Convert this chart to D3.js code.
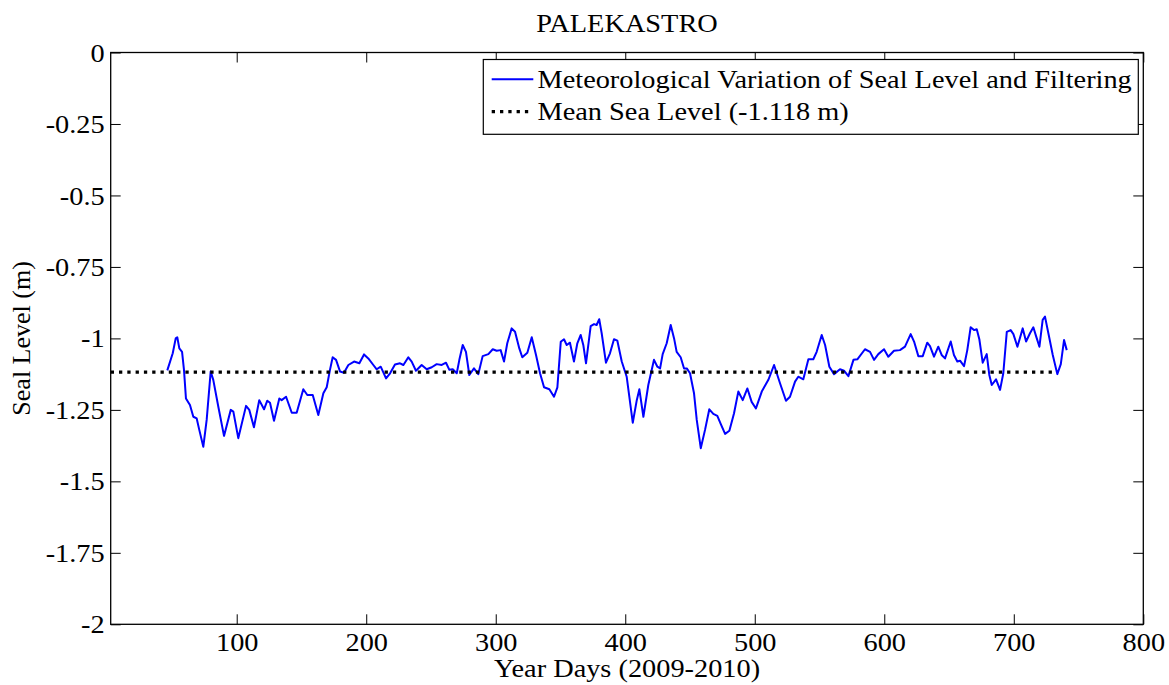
<!DOCTYPE html>
<html>
<head>
<meta charset="utf-8">
<script src="https://cdn.jsdelivr.net/npm/d3@7"></script>
<style>
  html, body { margin: 0; padding: 0; background: #fff; }
  svg { display: block; }
  svg text { font-family: "Liberation Serif", "Times New Roman", serif !important; fill: #000; }
</style>
</head>
<body>
<svg id="chart" width="1169" height="685"></svg>
<script>
// ---- data ----
const title = "PALEKASTRO";
const xLabel = "Year Days (2009-2010)";
const yLabel = "Seal Level (m)";
const seriesName = "Meteorological Variation of Seal Level and Filtering";
const meanName = "Mean Sea Level (-1.118 m)";
const meanLevel = -1.118;
const meanEndDay = 732;
const xTicks = [100, 200, 300, 400, 500, 600, 700, 800];
const yTicks = [0, -0.25, -0.5, -0.75, -1, -1.25, -1.5, -1.75, -2];
const yTickLabels = ["0", "-0.25", "-0.5", "-0.75", "-1", "-1.25", "-1.5", "-1.75", "-2"];
const days = [
  46.4, 50.6, 52.9, 54.1, 55.7, 57.8, 59.3, 60.8, 63.9, 66.5, 69.1, 71.1, 74.2, 76.8, 79.9, 81.9,
  85.8, 90.2, 95.4, 97.4, 101.2, 107.2, 109.7, 113.3, 117.4, 121.1, 123.6, 125.7, 128.8, 132.9,
  134.7, 138.1, 142.5, 146.3, 151.4, 154.5, 158.7, 163.0, 166.9, 169.5, 172.0, 174.1, 176.7,
  179.8, 182.8, 186.2, 190.6, 194.7, 198.3, 201.6, 205.5, 208.1, 211.2, 215.3, 218.4, 222.2,
  226.1, 228.7, 232.5, 235.1, 238.4, 242.8, 246.7, 250.6, 254.4, 258.3, 261.6, 264.2, 266.8,
  269.9, 271.9, 274.5, 277.0, 279.6, 283.2, 286.5, 289.9, 294.3, 297.7, 300.7, 303.8, 306.4,
  308.9, 312.3, 314.9, 318.2, 320.5, 324.4, 327.8, 331.1, 334.2, 337.3, 341.4, 345.0, 347.6,
  350.2, 352.7, 354.8, 357.3, 360.4, 363.0, 365.6, 367.6, 369.7, 373.3, 375.9, 377.9, 379.9,
  381.8, 385.1, 388.2, 391.3, 393.9, 397.3, 401.1, 405.8, 408.9, 410.9, 414.0, 417.8, 422.2,
  424.8, 426.9, 428.9, 432.0, 435.1, 437.7, 439.7, 442.8, 445.4, 447.5, 450.0, 453.1, 455.2,
  458.3, 461.6, 464.9, 468.0, 471.1, 473.7, 477.1, 480.4, 484.0, 487.3, 490.7, 494.3, 497.6,
  500.9, 505.4, 510.5, 514.9, 519.5, 524.1, 527.2, 531.1, 533.6, 537.5, 541.4, 545.2, 547.8,
  551.7, 554.3, 557.6, 561.2, 565.8, 568.9, 572.3, 576.2, 579.2, 585.1, 589.0, 592.1, 595.4,
  599.8, 603.1, 607.5, 612.1, 616.0, 620.4, 623.0, 626.3, 629.7, 633.2, 635.3, 638.4, 641.7,
  644.3, 646.9, 651.3, 653.8, 656.4, 658.5, 661.6, 664.1, 666.7, 669.3, 671.4, 673.4, 676.0,
  679.1, 681.1, 683.0, 686.3, 689.4, 691.9, 694.6, 697.6, 699.7, 702.8, 706.9, 709.5, 712.5,
  715.1, 717.2, 719.8, 722.3, 724.1, 726.7, 730.1, 733.6, 736.3, 738.8, 740.9
];
const levels = [
  -1.112, -1.052, -1.000, -0.996, -1.035, -1.047, -1.111, -1.210, -1.233, -1.274, -1.280, -1.320, -1.379, -1.285, -1.116, -1.145,
  -1.239, -1.341, -1.250, -1.256, -1.349, -1.236, -1.250, -1.311, -1.216, -1.248, -1.218, -1.225, -1.288, -1.210,
  -1.216, -1.204, -1.260, -1.260, -1.178, -1.198, -1.198, -1.268, -1.192, -1.171, -1.110, -1.066, -1.075,
  -1.116, -1.120, -1.093, -1.081, -1.087, -1.056, -1.070, -1.093, -1.108, -1.099, -1.140, -1.122, -1.091,
  -1.087, -1.093, -1.066, -1.081, -1.113, -1.093, -1.108, -1.101, -1.090, -1.093, -1.085, -1.110, -1.108,
  -1.122, -1.075, -1.023, -1.047, -1.128, -1.105, -1.125, -1.062, -1.055, -1.038, -1.043, -1.041, -1.081,
  -1.017, -0.965, -0.977, -1.035, -1.066, -1.050, -0.996, -1.058, -1.122, -1.171, -1.178, -1.204, -1.171,
  -1.012, -1.003, -1.023, -1.015, -1.081, -1.017, -0.988, -1.023, -1.087, -0.957, -0.950, -0.953, -0.933,
  -0.982, -1.085, -1.052, -1.003, -1.008, -1.081, -1.134, -1.295, -1.216, -1.178, -1.274, -1.163, -1.075,
  -1.099, -1.105, -1.055, -1.017, -0.953, -1.000, -1.047, -1.066, -1.105, -1.105, -1.122, -1.192, -1.285,
  -1.384, -1.320, -1.248, -1.264, -1.271, -1.299, -1.334, -1.323, -1.262, -1.186, -1.216, -1.175, -1.222,
  -1.245, -1.186, -1.145, -1.093, -1.157, -1.218, -1.204, -1.151, -1.134, -1.143, -1.073, -1.073, -1.047,
  -0.988, -1.023, -1.099, -1.125, -1.108, -1.113, -1.132, -1.075, -1.073, -1.038, -1.047, -1.075, -1.055,
  -1.038, -1.064, -1.043, -1.041, -1.029, -0.985, -1.011, -1.062, -1.062, -1.015, -1.027, -1.064, -1.029,
  -1.058, -1.070, -1.011, -1.058, -1.081, -1.078, -1.097, -1.041, -0.961, -0.971, -0.968, -1.003, -1.085,
  -1.055, -1.128, -1.163, -1.143, -1.180, -1.122, -0.977, -0.971, -0.985, -1.029, -0.965, -1.011, -0.982,
  -0.961, -0.992, -1.029, -0.935, -0.924, -0.982, -1.058, -1.125, -1.090, -1.006, -1.041
];

// ---- layout ----
const svg = d3.select("#chart");
const L = 110.7, R = 1143.3, T = 52.5, B = 624.3;
const FS = 26;
const SX = 1.09; // horizontal stretch of the reference's text
const FONT = "Liberation Serif";
const x = d3.scaleLinear().domain([2.7, 800]).range([L, R]);
const y = d3.scaleLinear().domain([-2, 0]).range([B, T]);

svg.append("rect").attr("width", 1169).attr("height", 685).attr("fill", "#fff");

svg.append("clipPath").attr("id", "plotclip")
  .append("rect").attr("x", L).attr("y", T).attr("width", R - L).attr("height", B - T);

// stretch a text horizontally about its anchor x
function stretch(sel) {
  sel.each(function () {
    const t = d3.select(this);
    const x0 = +t.attr("x") || 0;
    const prev = t.attr("transform") || "";
    t.attr("transform", `${prev} translate(${x0},0) scale(${SX},1) translate(${-x0},0)`);
  });
}

// axes with inward ticks (MATLAB style, box on)
const tickLen = 10;
const xAxisB = d3.axisBottom(x).tickValues(xTicks).tickSize(-tickLen).tickPadding(8).tickFormat(d3.format("d"));
const xAxisT = d3.axisTop(x).tickValues(xTicks).tickSize(-tickLen).tickFormat("");
const yAxisL = d3.axisLeft(y).tickValues(yTicks).tickSize(-tickLen).tickPadding(6)
  .tickFormat((d, i) => yTickLabels[i]);
const yAxisR = d3.axisRight(y).tickValues(yTicks).tickSize(-tickLen).tickFormat("");

function styleAxis(g) {
  g.attr("font-family", FONT).attr("font-size", FS);
  g.select(".domain").remove();
  g.selectAll(".tick line").attr("stroke", "#000").attr("stroke-width", 1);
  g.selectAll(".tick text").style("font-family", FONT).attr("font-size", FS).attr("fill", "#000");
}

svg.append("g").attr("transform", `translate(0,${B})`).call(xAxisB).call(styleAxis)
  .selectAll(".tick text").attr("dy", "0.71em").call(stretch);
svg.append("g").attr("transform", `translate(0,${T})`).call(xAxisT).call(styleAxis);
svg.append("g").attr("transform", `translate(${L},0)`).call(yAxisL).call(styleAxis)
  .selectAll(".tick text").attr("dy", "0.33em").call(stretch);
svg.append("g").attr("transform", `translate(${R},0)`).call(yAxisR).call(styleAxis);

// data lines
const plot = svg.append("g").attr("clip-path", "url(#plotclip)");
const pts = days.map((d, i) => [d, levels[i]]);
plot.append("path")
  .datum(pts)
  .attr("fill", "none")
  .attr("stroke", "#0000ff")
  .attr("stroke-width", 2)
  .attr("stroke-linejoin", "round")
  .attr("d", d3.line().x(d => x(d[0])).y(d => y(d[1])));

plot.append("line")
  .attr("x1", x(x.domain()[0])).attr("x2", x(meanEndDay))
  .attr("y1", y(meanLevel)).attr("y2", y(meanLevel))
  .attr("stroke", "#000").attr("stroke-width", 3.2)
  .attr("stroke-dasharray", "3.3,5");

// box
svg.append("rect").attr("x", L).attr("y", T).attr("width", R - L).attr("height", B - T)
  .attr("fill", "none").attr("stroke", "#000").attr("stroke-width", 1.3);

// legend
const lg = svg.append("g");
const lgX = 483.3, lgY = 59.5, lgW = 1138.3 - 483.3, lgH = 134.3 - 59.5;
lg.append("rect").attr("x", lgX).attr("y", lgY).attr("width", lgW).attr("height", lgH)
  .attr("fill", "#fff").attr("stroke", "#000").attr("stroke-width", 1.2);
const row1 = 79.3, row2 = 111.7;
lg.append("line").attr("x1", 491.7).attr("x2", 533.3).attr("y1", row1).attr("y2", row1)
  .attr("stroke", "#0000ff").attr("stroke-width", 2);
lg.append("line").attr("x1", 491.7).attr("x2", 531.5).attr("y1", row2).attr("y2", row2)
  .attr("stroke", "#000").attr("stroke-width", 3.2).attr("stroke-dasharray", "3.3,5");
lg.append("text").attr("x", 537.5).attr("y", row1).attr("dy", "0.33em")
  .attr("font-size", FS).text(seriesName).call(stretch);
lg.append("text").attr("x", 537.5).attr("y", row2).attr("dy", "0.33em")
  .attr("font-size", FS).text(meanName).call(stretch);

// title and labels
svg.append("text").attr("x", (L + R) / 2).attr("y", 32).attr("text-anchor", "middle")
  .attr("font-size", FS).text(title).call(stretch);
svg.append("text").attr("x", (L + R) / 2).attr("y", 677.5).attr("text-anchor", "middle")
  .attr("font-size", FS).text(xLabel).call(stretch);
svg.append("text").attr("transform", `translate(30,${(T + B) / 2}) rotate(-90)`)
  .attr("text-anchor", "middle").attr("font-size", FS).text(yLabel);
</script>
</body>
</html>
